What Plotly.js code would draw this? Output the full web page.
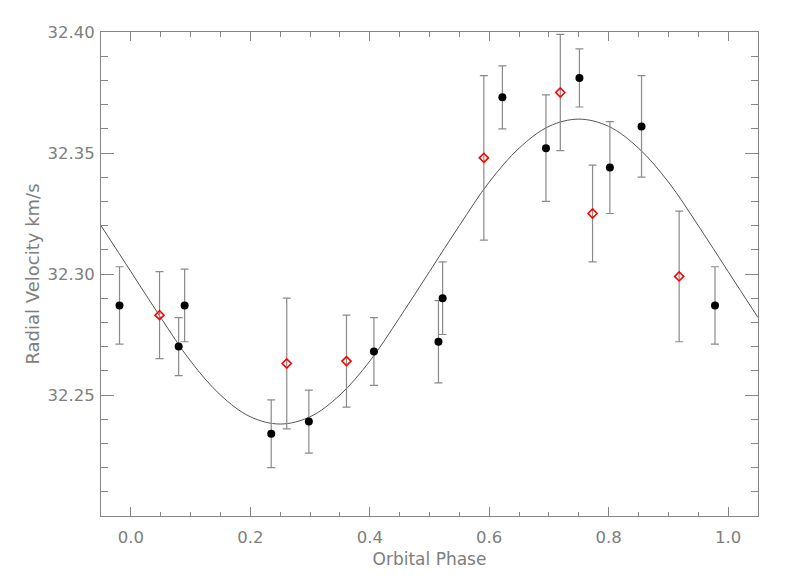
<!DOCTYPE html>
<html>
<head>
<meta charset="utf-8">
<script src="https://cdn.plot.ly/plotly-3.0.1.min.js"></script>
<style>html,body{margin:0;padding:0;background:#fff;}#chart{width:789px;height:581px;}</style>
</head>
<body>
<div id="chart"></div>
<script>
// Black filled-circle measurements
const blackPhase = [-0.019, 0.080, 0.090, 0.235, 0.298, 0.407, 0.515, 0.522, 0.622, 0.695, 0.751, 0.802, 0.855, 0.978];
const blackVel   = [32.287, 32.270, 32.287, 32.234, 32.239, 32.268, 32.272, 32.290, 32.373, 32.352, 32.381, 32.344, 32.361, 32.287];
const blackErr   = [0.016, 0.012, 0.015, 0.014, 0.013, 0.014, 0.017, 0.015, 0.013, 0.022, 0.012, 0.019, 0.021, 0.016];

// Red open-diamond measurements
const redPhase = [0.048, 0.261, 0.361, 0.591, 0.719, 0.773, 0.918];
const redVel   = [32.283, 32.263, 32.264, 32.348, 32.375, 32.325, 32.299];
const redErr   = [0.018, 0.027, 0.019, 0.034, 0.024, 0.020, 0.027];

// Fitted curve
const fitPhase = [-0.05, 0.00, 0.05, 0.10, 0.15, 0.20, 0.25, 0.30, 0.35, 0.40, 0.45, 0.50,
                  0.55, 0.60, 0.65, 0.70, 0.75, 0.80, 0.85, 0.90, 0.95, 1.00, 1.05];
const fitVel   = [32.320, 32.301, 32.282, 32.264, 32.250, 32.241, 32.238, 32.241, 32.250, 32.264, 32.282, 32.301,
                  32.320, 32.338, 32.352, 32.361, 32.364, 32.361, 32.352, 32.338, 32.320, 32.301, 32.282];

// Tick labels
const xTickVals = [0.0, 0.2, 0.4, 0.6, 0.8, 1.0];
const xTickText = ['0.0', '0.2', '0.4', '0.6', '0.8', '1.0'];
const yTickVals = [32.25, 32.30, 32.35, 32.40];
const yTickText = ['32.25', '32.30', '32.35', '32.40'];

const axisGrey = '#858585';
const textGrey = '#7e7e7e';
const tickFont = {family: 'DejaVu Sans, sans-serif', size: 16.5, color: textGrey};
const xTitleFont = {family: 'DejaVu Sans, sans-serif', size: 17, color: textGrey};
const yTitleFont = {family: 'DejaVu Sans, sans-serif', size: 18, color: textGrey};

const traces = [
  {
    x: fitPhase, y: fitVel, type: 'scatter', mode: 'lines',
    line: {color: '#555555', width: 1, shape: 'spline', smoothing: 1.0},
    hoverinfo: 'skip', showlegend: false
  },
  {
    x: blackPhase, y: blackVel, type: 'scatter', mode: 'markers',
    marker: {symbol: 'circle', size: 8, color: '#000000'},
    error_y: {type: 'data', array: blackErr, visible: true, color: '#8a8a8a', thickness: 1.2, width: 4},
    showlegend: false
  },
  {
    x: redPhase, y: redVel, type: 'scatter', mode: 'markers',
    marker: {symbol: 'diamond-open', size: 7, color: '#ff0000', line: {color: '#ff0000', width: 1.6}},
    error_y: {type: 'data', array: redErr, visible: true, color: '#8a8a8a', thickness: 1.2, width: 4},
    showlegend: false
  }
];

const layout = {
  width: 789, height: 581,
  margin: {l: 101, r: 31, t: 32, b: 65},
  paper_bgcolor: '#ffffff', plot_bgcolor: '#ffffff',
  font: tickFont,
  showlegend: false,
  xaxis: {
    range: [-0.05, 1.05], tickmode: 'array', tickvals: xTickVals, ticktext: xTickText,
    ticks: 'inside', ticklen: 9, tickwidth: 1, tickcolor: axisGrey,
    minor: {tick0: 0, dtick: 0.05, ticks: 'inside', ticklen: 4.5, tickcolor: axisGrey, showgrid: false},
    showline: true, linecolor: axisGrey, linewidth: 1, mirror: 'ticks',
    showgrid: false, zeroline: false,
    tickfont: tickFont, ticklabelstandoff: 6,
    title: {text: 'Orbital Phase', font: xTitleFont, standoff: 7}
  },
  yaxis: {
    range: [32.20, 32.40], tickmode: 'array', tickvals: yTickVals, ticktext: yTickText,
    ticks: 'inside', ticklen: 13, tickwidth: 1, tickcolor: axisGrey,
    minor: {tick0: 32.20, dtick: 0.01, ticks: 'inside', ticklen: 7, tickcolor: axisGrey, showgrid: false},
    showline: true, linecolor: axisGrey, linewidth: 1, mirror: 'ticks',
    showgrid: false, zeroline: false,
    tickfont: tickFont, ticklabelstandoff: 2,
    title: {text: 'Radial Velocity km/s', font: yTitleFont, standoff: 3}
  }
};

Plotly.newPlot('chart', traces, layout, {displayModeBar: false, staticPlot: true});
</script>
</body>
</html>
